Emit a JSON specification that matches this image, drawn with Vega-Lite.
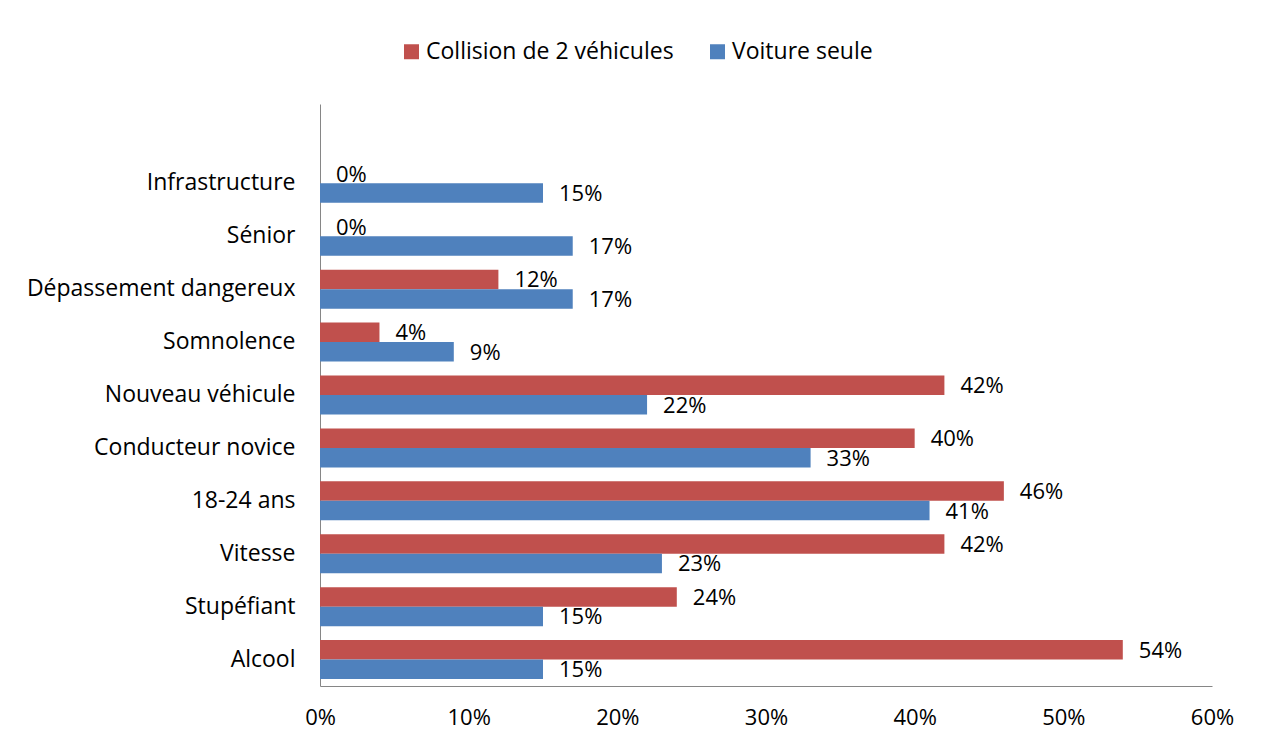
{
  "$schema": "https://vega.github.io/schema/vega-lite/v6.json",
  "width": 892,
  "height": 582,
  "autosize": {"type": "none"},
  "padding": {"left": 320, "top": 104, "right": 54, "bottom": 58},
  "background": "white",
  "config": {
    "view": {"stroke": null},
    "font": "Open Sans",
    "axis": {"labelFont": "Open Sans", "labelFontSize": 23, "labelColor": "#000000", "domainColor": "#868686", "ticks": false, "grid": false, "title": null, "labelLimit": 400},
    "legend": {"labelFont": "Open Sans", "labelFontSize": 23, "labelColor": "#000000", "labelLimit": 400}
  },
  "data": {
    "values": [
      {"cat": "Infrastructure", "serie": "Collision de 2 véhicules", "v": 0},
      {"cat": "Infrastructure", "serie": "Voiture seule", "v": 0.15},
      {"cat": "Sénior", "serie": "Collision de 2 véhicules", "v": 0},
      {"cat": "Sénior", "serie": "Voiture seule", "v": 0.17},
      {"cat": "Dépassement dangereux", "serie": "Collision de 2 véhicules", "v": 0.12},
      {"cat": "Dépassement dangereux", "serie": "Voiture seule", "v": 0.17},
      {"cat": "Somnolence", "serie": "Collision de 2 véhicules", "v": 0.04},
      {"cat": "Somnolence", "serie": "Voiture seule", "v": 0.09},
      {"cat": "Nouveau véhicule", "serie": "Collision de 2 véhicules", "v": 0.42},
      {"cat": "Nouveau véhicule", "serie": "Voiture seule", "v": 0.22},
      {"cat": "Conducteur novice", "serie": "Collision de 2 véhicules", "v": 0.40},
      {"cat": "Conducteur novice", "serie": "Voiture seule", "v": 0.33},
      {"cat": "18-24 ans", "serie": "Collision de 2 véhicules", "v": 0.46},
      {"cat": "18-24 ans", "serie": "Voiture seule", "v": 0.41},
      {"cat": "Vitesse", "serie": "Collision de 2 véhicules", "v": 0.42},
      {"cat": "Vitesse", "serie": "Voiture seule", "v": 0.23},
      {"cat": "Stupéfiant", "serie": "Collision de 2 véhicules", "v": 0.24},
      {"cat": "Stupéfiant", "serie": "Voiture seule", "v": 0.15},
      {"cat": "Alcool", "serie": "Collision de 2 véhicules", "v": 0.54},
      {"cat": "Alcool", "serie": "Voiture seule", "v": 0.15}
    ]
  },
  "encoding": {
    "y": {
      "field": "cat", "type": "nominal",
      "scale": {"domain": [" ", "Infrastructure", "Sénior", "Dépassement dangereux", "Somnolence", "Nouveau véhicule", "Conducteur novice", "18-24 ans", "Vitesse", "Stupéfiant", "Alcool"], "paddingInner": 0.263, "paddingOuter": 0.1315},
      "axis": {"labelPadding": 25}
    },
    "yOffset": {"field": "serie", "type": "nominal", "scale": {"domain": ["Collision de 2 véhicules", "Voiture seule"], "paddingInner": 0, "paddingOuter": 0}},
    "x": {
      "field": "v", "type": "quantitative",
      "scale": {"domain": [0, 0.6], "nice": false},
      "axis": {"format": ".0%", "values": [0, 0.1, 0.2, 0.3, 0.4, 0.5, 0.6], "labelPadding": 21, "labelFlush": false, "labelFontSize": 22}
    }
  },
  "layer": [
    {
      "mark": {"type": "bar"},
      "encoding": {
        "color": {
          "field": "serie", "type": "nominal",
          "scale": {"domain": ["Collision de 2 véhicules", "Voiture seule"], "range": ["#C0504D", "#4F81BD"]},
          "legend": {"title": null, "orient": "none", "direction": "horizontal", "legendX": 80, "legendY": -64, "symbolType": "square", "symbolSize": 225, "symbolStrokeWidth": 0, "labelOffset": 3, "columnPadding": 32}
        }
      }
    },
    {
      "mark": {"type": "text", "align": "left", "baseline": "middle", "dx": 16, "dy": 1, "fontSize": 22, "font": "Open Sans", "color": "#000000"},
      "encoding": {
        "text": {"field": "v", "type": "quantitative", "format": ".0%"}
      }
    }
  ]
}
